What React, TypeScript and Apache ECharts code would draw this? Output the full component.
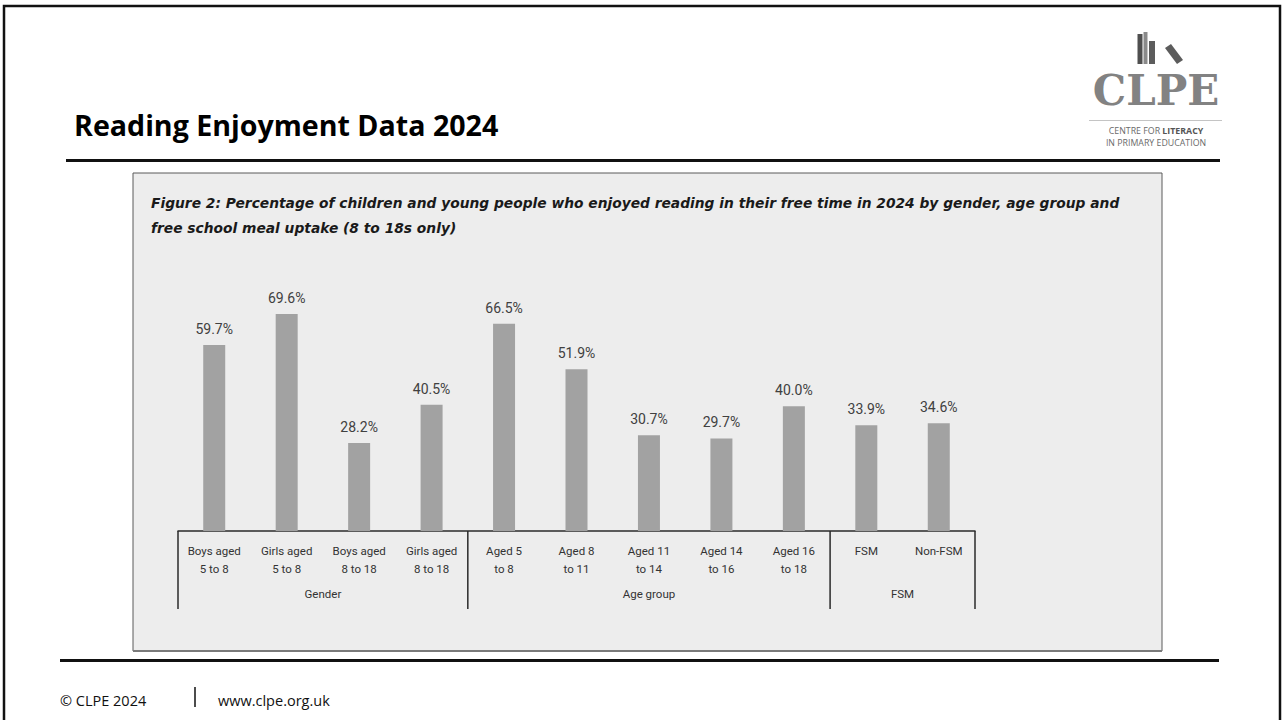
import React, { useEffect, useRef } from "react";
import * as echarts from "echarts";

const categories = [
  "Boys aged\n5 to 8",
  "Girls aged\n5 to 8",
  "Boys aged\n8 to 18",
  "Girls aged\n8 to 18",
  "Aged 5\nto 8",
  "Aged 8\nto 11",
  "Aged 11\nto 14",
  "Aged 14\nto 16",
  "Aged 16\nto 18",
  "FSM",
  "Non-FSM",
];
const values = [59.7, 69.6, 28.2, 40.5, 66.5, 51.9, 30.7, 29.7, 40.0, 33.9, 34.6];
const groupNames = ["Gender", "Age group", "FSM"];
const groupSizes = [4, 5, 2];

const pageTitle = "Reading Enjoyment Data 2024";
const figureTitle1 =
  "Figure 2: Percentage of children and young people who enjoyed reading in their free time in 2024 by gender, age group and";
const figureTitle2 = "free school meal uptake (8 to 18s only)";
const footerLeft = "\u00A9 CLPE 2024";
const footerRight = "www.clpe.org.uk";

const W = 1282;
const H = 720;

export default function App() {
  const ref = useRef<HTMLDivElement>(null);

  useEffect(() => {
    if (!ref.current) return;
    const chart = echarts.init(ref.current, undefined, { renderer: "svg" });

    const figFont = {
      fontFamily: "DejaVu Sans",
      fontWeight: "bold",
      fontStyle: "italic",
      fontSize: 13.8,
      fill: "#1a1a1a",
      verticalAlign: "middle",
    };

    const staticGraphics: any[] = [
      // outer slide frame
      {
        type: "rect",
        z: -5,
        shape: { x: 4, y: 6, width: 1276, height: 730 },
        style: { fill: "#ffffff", stroke: "#111111", lineWidth: 2.5 },
      },
      // header title
      {
        type: "text",
        x: 74,
        y: 124,
        style: {
          text: pageTitle,
          fontFamily: "Open Sans",
          fontWeight: "bold",
          fontSize: 28.6,
          fill: "#000000",
          verticalAlign: "middle",
        },
      },
      // header rule
      {
        type: "line",
        shape: { x1: 66, y1: 160.5, x2: 1220, y2: 160.5 },
        style: { stroke: "#111111", lineWidth: 3 },
      },
      // chart panel
      {
        type: "rect",
        z: -2,
        shape: { x: 133, y: 173, width: 1029, height: 478 },
        style: { fill: "#ededed", stroke: "#5a5a5a", lineWidth: 1 },
      },
      {
        type: "line",
        z: -1,
        shape: { x1: 133, y1: 651, x2: 1162, y2: 651 },
        style: { stroke: "#7a7a7a", lineWidth: 2 },
      },
      // figure title
      { type: "text", x: 151, y: 203, style: { text: figureTitle1, ...figFont } },
      { type: "text", x: 151, y: 228, style: { text: figureTitle2, ...figFont } },
      // footer rule
      {
        type: "line",
        shape: { x1: 60, y1: 660.5, x2: 1219, y2: 660.5 },
        style: { stroke: "#111111", lineWidth: 3 },
      },
      {
        type: "text",
        x: 60,
        y: 700,
        style: {
          text: footerLeft,
          fontFamily: "Open Sans",
          fontSize: 14.5,
          fill: "#111111",
          verticalAlign: "middle",
        },
      },
      {
        type: "line",
        shape: { x1: 195, y1: 687, x2: 195, y2: 707 },
        style: { stroke: "#111111", lineWidth: 1.5 },
      },
      {
        type: "text",
        x: 218,
        y: 700,
        style: {
          text: footerRight,
          fontFamily: "Open Sans",
          fontSize: 14.5,
          fill: "#111111",
          verticalAlign: "middle",
        },
      },
      // logo: books
      { type: "rect", shape: { x: 1137.5, y: 34, width: 5, height: 30 }, style: { fill: "#4f4f4f" } },
      { type: "rect", shape: { x: 1143.5, y: 32, width: 4, height: 32 }, style: { fill: "#8a8a8a" } },
      { type: "rect", shape: { x: 1149, y: 41, width: 6, height: 23 }, style: { fill: "#5c5c5c" } },
      {
        type: "polygon",
        shape: { points: [[1165, 48], [1171, 44], [1183, 60], [1177, 64]] },
        style: { fill: "#5c5c5c" },
      },
      {
        type: "text",
        x: 1156,
        y: 90,
        style: {
          text: "CLPE",
          fontFamily: "DejaVu Serif",
          fontWeight: "bold",
          fontSize: 42,
          fill: "#828282",
          align: "center",
          verticalAlign: "middle",
        },
      },
      {
        type: "line",
        shape: { x1: 1089, y1: 120.5, x2: 1222, y2: 120.5 },
        style: { stroke: "#c4c4c4", lineWidth: 1 },
      },
      {
        type: "text",
        x: 1156,
        y: 130.5,
        style: {
          text: "{n|CENTRE FOR }{b|LITERACY}",
          align: "center",
          verticalAlign: "middle",
          rich: {
            n: { fontFamily: "Open Sans", fontSize: 8.8, fill: "#6a6a6a" },
            b: { fontFamily: "Open Sans", fontSize: 8.8, fontWeight: "bold", fill: "#555555" },
          },
        },
      },
      {
        type: "text",
        x: 1156,
        y: 143,
        style: {
          text: "IN PRIMARY EDUCATION",
          fontFamily: "Open Sans",
          fontSize: 8.8,
          fill: "#6a6a6a",
          align: "center",
          verticalAlign: "middle",
        },
      },
    ];

    const option: any = {
      animation: false,
      backgroundColor: "#ffffff",
      grid: { left: 178, width: 797, top: 281.6, bottom: H - 531, containLabel: false },
      xAxis: {
        type: "category",
        data: categories,
        axisLine: { show: true, lineStyle: { color: "#2a2a2a", width: 1.5 } },
        axisTick: { show: false },
        axisLabel: {
          interval: 0,
          margin: 11,
          fontFamily: "Roboto",
          fontSize: 11.5,
          lineHeight: 18,
          color: "#333333",
        },
      },
      yAxis: { type: "value", min: 0, max: 80, show: false, splitLine: { show: false } },
      series: [
        {
          type: "bar",
          data: values,
          barWidth: 22,
          itemStyle: { color: "#a2a2a2" },
          label: {
            show: true,
            position: "top",
            distance: 9,
            fontFamily: "Roboto",
            fontSize: 14,
            color: "#404040",
            formatter: (p: any) => Number(p.value).toFixed(1) + "%",
          },
        },
      ],
      graphic: staticGraphics,
    };

    chart.setOption(option);

    // group separators and names, positioned through the axis scale
    const c0 = chart.convertToPixel({ xAxisIndex: 0 }, 0) as number;
    const c1 = chart.convertToPixel({ xAxisIndex: 0 }, 1) as number;
    const half = (c1 - c0) / 2;
    const axisY = chart.convertToPixel({ yAxisIndex: 0 }, 0) as number;
    const sepBottom = axisY + 78;
    const groupGraphics: any[] = [];
    let start = 0;
    const bounds: number[] = [];
    groupSizes.forEach((size, gi) => {
      const end = start + size - 1;
      const left = (chart.convertToPixel({ xAxisIndex: 0 }, start) as number) - half;
      const right = (chart.convertToPixel({ xAxisIndex: 0 }, end) as number) + half;
      if (gi === 0) bounds.push(left);
      bounds.push(right);
      groupGraphics.push({
        type: "text",
        x: (left + right) / 2,
        y: axisY + 63,
        style: {
          text: groupNames[gi],
          fontFamily: "Roboto",
          fontSize: 11.5,
          fill: "#333333",
          align: "center",
          verticalAlign: "middle",
        },
      });
      start = end + 1;
    });
    bounds.forEach((bx) => {
      groupGraphics.push({
        type: "line",
        shape: { x1: bx, y1: axisY, x2: bx, y2: sepBottom },
        style: { stroke: "#2a2a2a", lineWidth: 1.5 },
      });
    });

    chart.setOption({ graphic: [...staticGraphics, ...groupGraphics] });

    return () => chart.dispose();
  }, []);

  return (
    <div
      ref={ref}
      style={{ position: "absolute", left: 0, top: 0, width: W, height: H }}
    />
  );
}
